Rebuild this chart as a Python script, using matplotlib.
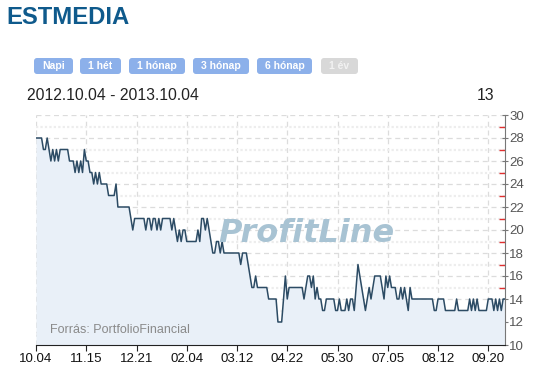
import matplotlib
matplotlib.use('Agg')
import matplotlib.pyplot as plt
from matplotlib.patches import FancyBboxPatch
from matplotlib.ticker import MultipleLocator

# daily closing prices, one per trading day (2012.10.04 - 2013.10.04)
close = [
    28, 28, 28, 28, 27, 27, 28, 27, 26, 27, 26, 27, 26, 27, 27, 27, 27, 27, 26, 26,
    26, 25, 26, 25, 26, 25, 27, 26, 26, 25, 25, 24, 25, 24, 25, 24, 24, 24, 24, 23,
    23, 23, 23, 24, 22, 22, 22, 22, 22, 22, 22, 21, 20, 21, 21, 21, 21, 21, 21, 20,
    21, 21, 20, 21, 21, 20, 21, 20, 21, 21, 21, 21, 21, 20, 21, 20, 19, 20, 19, 20,
    20, 19, 19, 19, 19, 19, 19, 20, 19, 21, 21, 20, 21, 20, 19, 18, 18, 19, 19, 18,
    19, 18, 18, 18, 18, 18, 18, 18, 18, 18, 17, 18, 18, 18, 17, 16, 15, 15, 16, 15,
    15, 15, 15, 15, 15, 14, 14, 14, 14, 14, 12, 12, 12, 14, 16, 14, 15, 15, 15, 15,
    15, 15, 15, 15, 14, 15, 16, 16, 15, 16, 14, 15, 14, 14, 13, 13, 14, 14, 14, 14,
    14, 13, 13, 14, 13, 13, 13, 14, 13, 14, 14, 13, 15, 17, 16, 15, 14, 13, 14, 15,
    14, 15, 16, 16, 16, 16, 15, 14, 16, 15, 16, 15, 15, 15, 14, 14, 15, 14, 15, 14,
    13, 15, 14, 14, 14, 14, 14, 14, 14, 14, 14, 14, 14, 14, 13, 13, 14, 14, 14, 14,
    13, 13, 13, 13, 13, 13, 14, 13, 13, 13, 13, 13, 13, 14, 13, 14, 13, 14, 13, 13,
    13, 13, 13, 14, 14, 14, 13, 14, 13, 14, 13, 14, 14,
]
tick_idx = [0, 27, 54, 81, 108, 135, 162, 189, 216, 243]
tick_labels = ['10.04', '11.15', '12.21', '02.04', '03.12',
               '04.22', '05.30', '07.05', '08.12', '09.20']
buttons = ['Napi', '1 hét', '1 hónap', '3 hónap', '6 hónap', '1 év']
title = 'ESTMEDIA'
period = '2012.10.04 - 2013.10.04'
last_price = '13'

plt.rcParams['font.family'] = ['Liberation Sans', 'DejaVu Sans']

W, H = 533, 370
fig = plt.figure(figsize=(W / 100, H / 100), dpi=100)

# header drawn in pixel coordinates
hdr = fig.add_axes([0, 0, 1, 1])
hdr.axis('off')
hdr.set_xlim(0, W)
hdr.set_ylim(H, 0)
hdr.text(6, 18, title, fontsize=17.2, fontweight='bold', color='#0f5a8c',
         va='center', ha='left')

btn_x = [34, 80, 129, 193, 257, 321]
btn_w = [39, 41, 56, 56, 55, 37]
for i, lab in enumerate(buttons):
    grey = (i == len(buttons) - 1)
    box = FancyBboxPatch((btn_x[i], 58), btn_w[i], 16,
                         boxstyle='round,pad=0,rounding_size=3',
                         fc='#d8d8d8' if grey else '#8cb0ea', ec='none')
    hdr.add_patch(box)
    hdr.text(btn_x[i] + btn_w[i] / 2, 66, lab, fontsize=7.5, fontweight='bold',
             color='#f2f2f2' if grey else 'white', ha='center', va='center')

hdr.text(27, 96, period, fontsize=11.3, color='#222222', ha='left', va='center')
hdr.text(494, 96, last_price, fontsize=11.3, color='#222222', ha='right', va='center')

# price chart
ax = fig.add_axes([36 / W, 1 - 345 / H, 469 / W, 230 / H])
x = list(range(len(close)))
ax.fill_between(x, close, 10, color='#e9f0f8', lw=0, zorder=1)
ax.plot(x, close, color='#2c4b64', lw=1.1, zorder=3)

ax.set_xlim(0, len(close) - 1)
ax.set_ylim(10, 30)
ax.set_xticks(tick_idx)
ax.set_xticklabels(tick_labels)
ax.yaxis.set_major_locator(MultipleLocator(2))
ax.yaxis.set_minor_locator(MultipleLocator(1))
ax.yaxis.tick_right()

ax.grid(axis='x', color='#dcdcdc', ls=(0, (4, 3)), lw=0.9, zorder=0)
ax.grid(axis='y', which='major', color='#dcdcdc', ls=(0, (4, 3)), lw=0.9, zorder=0)
ax.grid(axis='y', which='minor', color='#ededed', ls=(0, (1, 1)), lw=1.6, zorder=0)
ax.set_axisbelow(True)

for s in ['left', 'top']:
    ax.spines[s].set_visible(False)
ax.spines['bottom'].set_color('#222222')
ax.spines['right'].set_color('#777777')

ax.tick_params(axis='x', length=4, color='#222222', labelsize=9.5,
               labelcolor='#111111', pad=2)
ax.tick_params(axis='y', which='major', length=4, color='#777777',
               labelsize=9.5, labelcolor='#555555', pad=1, direction='inout')
ax.tick_params(axis='y', which='minor', length=4, color='#e03030',
               direction='in', width=1)

ax.text((306 - 36) / 469, (345 - 233) / 230, 'ProfitLine', transform=ax.transAxes,
        fontsize=23, fontweight='bold', fontstyle='oblique', family='DejaVu Sans',
        color='#a8c3d3', ha='center', va='center', zorder=5)
ax.text((50 - 36) / 469, (345 - 330) / 230, 'Forrás: PortfolioFinancial',
        transform=ax.transAxes, fontsize=9, color='#8a8a8a',
        ha='left', va='center', zorder=5)

fig.savefig('out.png', dpi=100)
